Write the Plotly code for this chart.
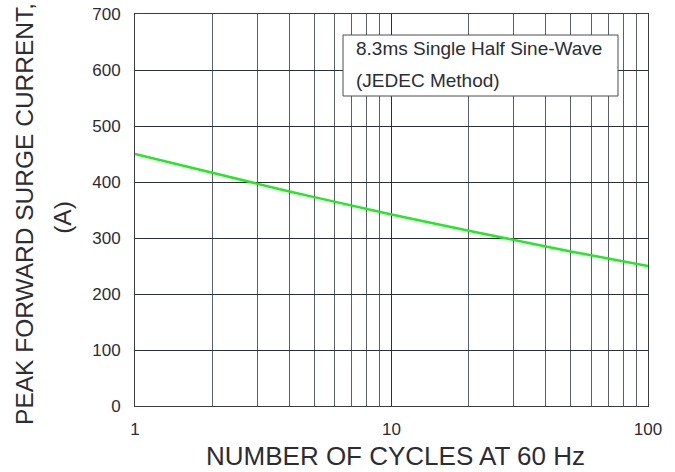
import plotly.graph_objects as go

cycles = [1, 2, 3, 4, 5, 6, 8, 10, 20, 30, 40, 50, 60, 80, 100]
surge_current = [450, 416, 397, 383, 373, 365, 352, 342, 313, 296, 285, 276, 269, 258, 250]

major_x = [1, 10, 100]
major_x_text = ["1", "10", "100"]
minor_x = [2, 3, 4, 5, 6, 7, 8, 9, 20, 30, 40, 50, 60, 70, 80, 90]
y_ticks = [0, 100, 200, 300, 400, 500, 600, 700]

FONT = "Arial, Liberation Sans, sans-serif"
TXT = "#2b2d33"
GRID = "#2b2f38"

fig = go.Figure()
fig.add_trace(go.Scatter(x=cycles, y=surge_current, mode="lines",
                         line=dict(color="#22ea22", width=2.5),
                         showlegend=False, hoverinfo="skip"))

fig.update_layout(
    width=675, height=472,
    margin=dict(l=135, r=27, t=14, b=66, autoexpand=False),
    paper_bgcolor="white", plot_bgcolor="white",
    font=dict(family=FONT, color=TXT, size=16),
    xaxis=dict(type="log", range=[0, 2], tickmode="array",
               tickvals=major_x, ticktext=major_x_text, automargin=False,
               showgrid=True, gridcolor=GRID, gridwidth=1,
               minor=dict(tickmode="array", tickvals=minor_x, showgrid=True,
                          gridcolor="#5c6068", gridwidth=1),
               showline=True, linecolor="#3a3d45", linewidth=1, mirror=True,
               ticks="", ticklabelstandoff=8, zeroline=False,
               tickfont=dict(size=17, color=TXT)),
    yaxis=dict(range=[0, 700], tickmode="array", tickvals=y_ticks, automargin=False,
               showgrid=True, gridcolor=GRID, gridwidth=1,
               showline=True, linecolor="#3a3d45", linewidth=1, mirror=True,
               ticks="", ticklabelstandoff=10, zeroline=False,
               tickfont=dict(size=17, color=TXT)),
)

fig.add_annotation(text="NUMBER OF CYCLES AT 60 Hz", xref="paper", yref="paper",
                   x=0.507, y=0, xanchor="center", yanchor="middle", yshift=-50,
                   showarrow=False, font=dict(size=26, color=TXT))
fig.add_annotation(text="PEAK FORWARD SURGE CURRENT,", xref="paper", yref="paper",
                   x=0, y=0.49, xanchor="center", yanchor="middle", xshift=-110,
                   textangle=-90, showarrow=False, font=dict(size=24.5, color=TXT))
fig.add_annotation(text="(A)", xref="paper", yref="paper",
                   x=0, y=0.48, xanchor="center", yanchor="middle", xshift=-72,
                   textangle=-90, showarrow=False, font=dict(size=24.5, color=TXT))

# legend-like box
fig.add_shape(type="rect", xref="paper", yref="paper",
              x0=(343 - 135) / 513, x1=(618 - 135) / 513,
              y0=(406 - 96) / 392, y1=(406 - 35) / 392,
              fillcolor="white", line=dict(color="#4a4d55", width=1), layer="above")
fig.add_annotation(text="8.3ms Single Half Sine-Wave", xref="paper", yref="paper",
                   x=(354 - 135) / 513, y=(406 - 48) / 392, xanchor="left", yanchor="middle",
                   showarrow=False, font=dict(size=19, color=TXT))
fig.add_annotation(text="(JEDEC Method)", xref="paper", yref="paper",
                   x=(354 - 135) / 513, y=(406 - 80) / 392, xanchor="left", yanchor="middle",
                   showarrow=False, font=dict(size=19, color=TXT))

fig.write_html("out.html", config={"displayModeBar": False},
               post_script="document.body.style.margin='0';document.body.style.padding='0';")
